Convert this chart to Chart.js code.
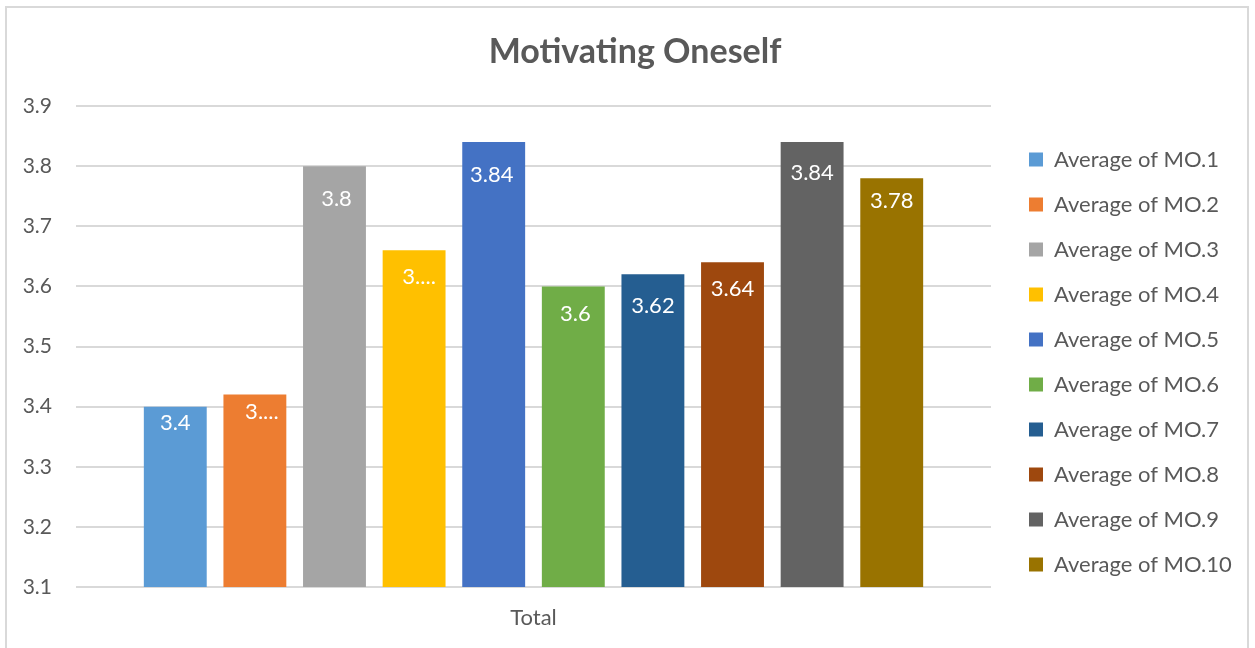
<!DOCTYPE html>
<html>
<head>
<meta charset="utf-8">
<script src="https://cdn.jsdelivr.net/npm/chart.js@4/dist/chart.umd.min.js"></script>
<style>
  html, body { margin: 0; padding: 0; background: #ffffff; overflow: hidden; }
  #wrap { position: absolute; left: 0; top: 0; width: 1255px; height: 648px; }
  #frame { position: absolute; left: 5px; top: 6px; width: 1244px; height: 700px; border: 2px solid #d9d9d9; box-sizing: border-box; pointer-events: none; }
  canvas { position: absolute; left: 0; top: 0; }
</style>
</head>
<body>
<div id="wrap">
  <canvas id="c" width="1255" height="648"></canvas>
  <div id="frame"></div>
</div>
<script>
const chartTitle = "Motivating Oneself";
const categories = ["Total"];
const seriesNames = ["Average of MO.1", "Average of MO.2", "Average of MO.3", "Average of MO.4", "Average of MO.5",
                     "Average of MO.6", "Average of MO.7", "Average of MO.8", "Average of MO.9", "Average of MO.10"];
const seriesValues = [3.4, 3.42, 3.8, 3.66, 3.84, 3.6, 3.62, 3.64, 3.84, 3.78];
const valueLabels = ["3.4", "3....", "3.8", "3....", "3.84", "3.6", "3.62", "3.64", "3.84", "3.78"];
const seriesColors = ["#5B9BD5", "#ED7D31", "#A5A5A5", "#FFC000", "#4472C4",
                      "#70AD47", "#255E91", "#9E480E", "#636363", "#997300"];
const yMin = 3.1, yMax = 3.9, yStep = 0.1;

// style: distance of each value label below its bar top, and horizontal nudge (px)
const labelDrop = [16, 17, 33, 27, 33, 28, 32, 27, 31, 23];
const labelNudge = [0, 7, 2, 5, -2, 2, 0, 0, 0, 0];

const FONT = "Lato, 'Open Sans', sans-serif";
const TEXT = "#595959";

const datasets = seriesNames.map((name, i) => ({
  label: name,
  data: [seriesValues[i]],
  backgroundColor: seriesColors[i],
  borderWidth: 0,
  categoryPercentage: 0.87,
  barPercentage: 0.79
}));

const valueLabelPlugin = {
  id: 'valueLabels',
  afterDatasetsDraw(chart) {
    const ctx = chart.ctx;
    ctx.save();
    ctx.font = "22px " + FONT;
    ctx.fillStyle = "#ffffff";
    ctx.textAlign = "center";
    ctx.textBaseline = "middle";
    chart.data.datasets.forEach((ds, i) => {
      const meta = chart.getDatasetMeta(i);
      meta.data.forEach(el => {
        ctx.fillText(valueLabels[i], el.x + labelNudge[i], el.y + labelDrop[i]);
      });
    });
    ctx.restore();
  }
};

const legendWidthPlugin = {
  id: 'legendWidth',
  beforeLayout(chart) {
    const lg = chart.legend;
    if (lg && !lg._fixedWidth) {
      const orig = lg.fit;
      lg.fit = function () { orig.call(this); this.width = 249; };
      lg._fixedWidth = true;
    }
  }
};

new Chart(document.getElementById('c'), {
  type: 'bar',
  data: { labels: categories, datasets: datasets },
  options: {
    responsive: false,
    animation: false,
    layout: { padding: { left: 15, right: 0, top: 0, bottom: 0 } },
    plugins: {
      title: {
        display: true,
        text: chartTitle,
        color: TEXT,
        font: { family: FONT, size: 34, weight: 'bold', lineHeight: 1.2 },
        padding: { top: 32, bottom: 33.2 }
      },
      legend: {
        display: true,
        position: 'right',
        align: 'center',
        fullSize: true,
        title: { display: true, text: ' ', font: { size: 10, lineHeight: 1.2 }, padding: 32 },
        labels: {
          boxWidth: 14,
          boxHeight: 14,
          padding: 23,
          color: TEXT,
          font: { family: FONT, size: 22 }
        }
      },
      tooltip: { enabled: false }
    },
    scales: {
      x: {
        grid: { display: false },
        border: { display: false },
        ticks: { color: TEXT, font: { family: FONT, size: 22 }, padding: 10 },
        afterFit(s) { s.height = 61; }
      },
      y: {
        min: yMin,
        max: yMax,
        ticks: {
          stepSize: yStep,
          color: TEXT,
          padding: 24,
          font: { family: FONT, size: 21 },
          callback: v => v.toFixed(1)
        },
        grid: { color: "#d9d9d9", lineWidth: 2, drawTicks: false },
        border: { display: false },
        afterFit(s) { s.width = 61; }
      },
      yRight: {
        position: 'right',
        display: true,
        grid: { display: false, drawTicks: false },
        border: { display: false },
        ticks: { display: false },
        afterFit(s) { s.width = 15; }
      }
    }
  },
  plugins: [valueLabelPlugin, legendWidthPlugin]
});
</script>
</body>
</html>
